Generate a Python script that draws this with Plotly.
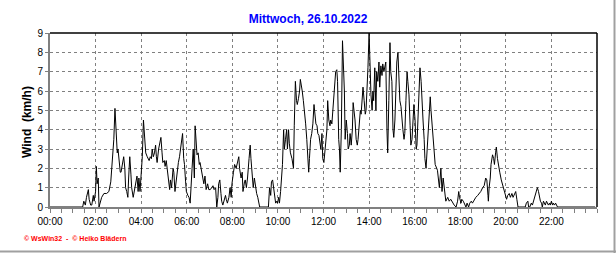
import plotly.graph_objects as go

# ---- data (minutes after midnight, wind speed km/h) ----
minutes = [
    0, 86, 89, 93, 96, 101, 103, 107, 110, 114, 116, 120, 122, 124, 127, 129, 136, 142, 149, 155,
    160, 164, 168, 171, 174, 177, 179, 182, 185, 187, 191, 194, 197, 199, 202, 205, 207, 210, 213, 215,
    219, 222, 226, 229, 232, 234, 237, 241, 243, 246, 249, 252, 256, 261, 264, 267, 269, 272, 275, 278,
    280, 282, 286, 289, 292, 295, 297, 301, 303, 306, 310, 312, 315, 317, 320, 324, 326, 329, 332, 335,
    338, 341, 344, 347, 349, 352, 354, 357, 359, 363, 366, 369, 372, 374, 377, 380, 382, 385, 387, 390,
    393, 395, 399, 402, 405, 408, 411, 415, 418, 422, 425, 429, 432, 436, 439, 442, 444, 447, 450, 452,
    455, 458, 462, 464, 467, 471, 474, 477, 479, 483, 486, 490, 493, 497, 499, 503, 506, 508, 512, 514,
    517, 520, 524, 527, 529, 532, 535, 538, 541, 544, 547, 549, 552, 575,
    578, 581, 583, 586, 589, 591, 594, 597, 599, 602, 604, 607, 610, 612, 615, 617, 620, 623, 625, 628,
    630, 633, 637, 641, 643, 646, 649, 651, 654, 657, 659, 662, 664, 667, 670, 673, 676, 678, 681, 683,
    686, 689, 692, 695, 697, 700, 703, 705, 708, 710, 713, 716, 718, 721, 723, 726, 729, 731, 734, 737,
    739, 742, 744, 747, 750, 752, 755, 757, 760, 762, 764, 767, 770, 772, 775, 777, 780, 783, 785, 788,
    790, 793, 796, 798, 801, 803, 806, 809, 811, 814, 817, 819, 822, 824, 827, 830, 832, 835, 837, 840,
    843, 845, 848, 850,
    852, 855, 858, 860, 863, 866, 868, 871, 874, 876, 879, 882, 884, 887, 889, 892, 895, 897, 900, 903,
    905, 908, 911, 913, 916, 919, 921, 924, 926, 929, 932, 934, 937, 940, 942, 945, 948, 950, 953, 956,
    958, 961, 964, 966, 969, 971, 974, 977, 979, 982, 985, 987, 990, 993, 995, 998, 1001, 1003, 1006, 1009,
    1011, 1014,
    1020, 1025, 1029, 1032, 1035, 1039, 1042, 1047, 1051, 1055, 1060, 1064, 1069, 1073, 1076, 1078, 1082, 1084, 1088, 1091,
    1095, 1098, 1102, 1105, 1109, 1112, 1117, 1121, 1126, 1130, 1134, 1139, 1143, 1147, 1150, 1153, 1154, 1156, 1159, 1161,
    1165, 1168, 1170, 1173, 1175, 1178, 1181, 1184, 1188, 1191, 1195, 1198, 1202, 1205, 1209, 1212, 1216, 1219, 1223, 1226,
    1229, 1232, 1251, 1254, 1258, 1260, 1263, 1267, 1270, 1273, 1276, 1280, 1283, 1286, 1288, 1291, 1294, 1296, 1299, 1302,
    1304, 1307, 1310, 1312, 1315, 1317, 1320, 1323, 1325, 1328, 1331, 1336, 1435,
]
wind = [
    0.0, 0.0, 0.3, 0.1, 0.5, 0.9, 0.4, 0.1, 0.1, 0.6, 0.3, 0.8, 2.1, 1.2, 1.5, 0.0, 0.5, 0.7, 0.7, 0.8,
    1.3, 2.5, 3.5, 5.1, 3.5, 2.8, 3.0, 2.2, 1.8, 1.8, 2.3, 2.6, 2.0, 1.0, 0.8, 0.5, 1.5, 2.6, 1.7, 1.0,
    0.5, 0.8, 1.3, 1.6, 0.8, 1.5, 0.8, 2.0, 2.6, 4.5, 3.5, 2.8, 2.6, 2.4, 2.6, 2.5, 3.0, 2.6, 2.8, 3.2,
    2.6, 2.3, 3.0, 3.4, 3.6, 2.8, 2.3, 2.4, 2.1, 2.4, 1.8, 1.5, 0.9, 1.4, 1.0, 2.0, 1.8, 0.8, 1.3, 2.0,
    2.3, 2.6, 3.0, 3.3, 3.8, 2.5, 2.2, 1.3, 0.8, 0.6, 0.5, 0.2, 1.0, 2.0, 3.0, 1.5, 4.2, 3.2, 2.7, 2.8,
    2.2, 2.3, 1.8, 1.5, 1.2, 1.6, 0.9, 1.2, 0.9, 0.9, 1.0, 1.1, 0.9, 1.0, 0.0, 0.5, 1.2, 1.4, 0.7, 0.3,
    0.1, 0.4, 0.6, 0.4, 0.2, 0.5, 1.0, 0.5, 1.2, 1.8, 2.2, 2.0, 2.3, 2.6, 2.0, 1.5, 1.8, 0.8, 1.3, 1.4,
    1.0, 1.5, 2.5, 3.2, 2.5, 1.8, 1.0, 1.5, 1.0, 0.7, 0.5, 0.2, 0.0, 0.0,
    1.0, 0.6, 1.3, 1.4, 0.9, 0.5, 0.2, 0.3, 0.2, 0.5, 0.2, 0.8, 1.5, 2.2, 4.0, 3.0, 3.5, 4.0, 3.0, 4.0,
    3.3, 2.8, 2.5, 2.0, 4.2, 6.5, 5.5, 5.3, 5.6, 6.0, 6.6, 6.3, 6.0, 5.5, 5.0, 4.3, 3.5, 2.6, 1.8, 2.5,
    3.5, 3.8, 4.3, 5.3, 4.8, 4.3, 4.2, 3.8, 3.7, 3.5, 3.0, 3.8, 2.5, 2.3, 2.7, 3.5, 4.0, 5.5, 4.5, 4.2,
    4.5, 4.3, 4.9, 5.5, 6.2, 7.0, 7.1, 6.5, 3.5, 3.0, 1.8, 4.0, 8.6, 7.5, 6.0, 3.5, 4.5, 3.8, 3.0, 3.2,
    3.8, 3.2, 4.0, 5.4, 5.0, 4.5, 3.5, 3.2, 3.5, 4.2, 5.0, 4.8, 5.5, 6.2, 5.5, 4.8, 5.0, 6.0, 7.2, 9.0,
    6.5, 5.8, 5.0, 6.0,
    5.5, 7.2, 5.0, 7.0, 6.5, 7.5, 6.2, 7.3, 6.8, 7.4, 7.0, 7.4, 7.5, 4.0, 2.8, 5.5, 8.5, 7.0, 6.5, 4.0,
    3.6, 4.5, 6.2, 7.5, 8.0, 6.5, 5.5, 5.2, 4.5, 4.0, 3.5, 3.8, 5.5, 7.0, 6.5, 5.8, 4.2, 3.2, 3.5, 4.5,
    5.3, 4.5, 3.0, 3.2, 4.5, 6.0, 7.2, 6.5, 5.5, 4.5, 3.5, 2.5, 2.0, 3.0, 4.0, 5.0, 5.7, 5.0, 4.2, 3.5,
    2.8, 2.2,
    1.9, 1.0, 2.0, 0.8, 1.5, 0.6, 0.3, 0.5, 0.3, 0.4, 0.2, 0.1, 0.0, 0.3, 0.8, 0.5, 0.2, 0.4, 0.3, 0.2,
    0.0, 0.2, 0.0, 0.2, 0.3, 0.2, 0.4, 0.5, 0.6, 0.7, 0.8, 1.0, 1.1, 1.5, 1.4, 0.6, 0.3, 1.0, 1.5, 2.2,
    2.7, 2.5, 2.2, 2.8, 3.1, 2.5, 2.0, 1.8, 1.4, 1.2, 0.9, 0.6, 0.4, 0.6, 0.7, 0.5, 0.7, 0.5, 0.7, 0.8,
    0.4, 0.0, 0.0, 0.2, 0.3, 0.0, 0.0, 0.2, 0.1, 0.3, 0.5, 0.8, 1.0, 0.8, 0.5, 0.3, 0.2, 0.0, 0.3, 0.2,
    0.1, 0.3, 0.2, 0.1, 0.2, 0.1, 0.3, 0.1, 0.2, 0.1, 0.2, 0.0, 0.0,
]
tick_hours = [0, 2, 4, 6, 8, 10, 12, 14, 16, 18, 20, 22]
tick_labels = ["00:00", "02:00", "04:00", "06:00", "08:00", "10:00",
               "12:00", "14:00", "16:00", "18:00", "20:00", "22:00"]
y_ticks = [0, 1, 2, 3, 4, 5, 6, 7, 8, 9]
title_text = "Mittwoch, 26.10.2022"
y_title = "Wind  (km/h)"
footer_text = "© WsWin32  -  © Heiko Blädern"

hours = [m / 60 for m in minutes]

FONT = "Liberation Sans, Arial, sans-serif"
GRID = "#808080"

fig = go.Figure()
fig.add_trace(go.Scatter(x=hours, y=wind, mode="lines",
                         line=dict(color="black", width=1), hoverinfo="skip"))

fig.update_layout(
    width=616, height=253,
    margin=dict(l=50, r=19, t=33, b=46),
    paper_bgcolor="white", plot_bgcolor="white",
    showlegend=False,
    font=dict(family=FONT, size=10, color="black"),
    title=dict(text=title_text, x=0.5, xref="container", xanchor="center",
               y=1 - 19 / 253, yref="container", yanchor="middle",
               font=dict(family=FONT, size=12, color="#0000FF", weight="bold")),
)
fig.update_xaxes(
    range=[0, 24], tickvals=tick_hours, ticktext=tick_labels,
    showgrid=True, gridcolor=GRID, griddash="3px,3px", gridwidth=1,
    showline=True, linecolor=GRID, linewidth=2,
    ticks="outside", ticklen=4, tickcolor=GRID, tickwidth=1,
    minor=dict(dtick=0.5, ticks="outside", ticklen=4, tickcolor=GRID, tickwidth=1, showgrid=False),
    zeroline=False, fixedrange=True,
    tickfont=dict(family=FONT, size=10, color="black"),
)
fig.update_yaxes(
    range=[0, 9], tickvals=y_ticks,
    showgrid=True, gridcolor=GRID, griddash="3px,3px", gridwidth=1,
    showline=True, linecolor=GRID, linewidth=2,
    ticks="outside", ticklen=3, tickcolor=GRID, tickwidth=1,
    zeroline=False, fixedrange=True,
    tickfont=dict(family=FONT, size=10, color="black"),
)
# black top and right frame
fig.add_shape(type="line", xref="x domain", yref="y domain", x0=0, x1=1, y0=1, y1=1,
              line=dict(color="black", width=1.5))
fig.add_shape(type="line", xref="x domain", yref="y domain", x0=1, x1=1, y0=0, y1=1,
              line=dict(color="black", width=1.5))
# outer light-grey border (right / bottom)
fig.add_shape(type="line", xref="paper", yref="paper", x0=-50 / 547, x1=(616 - 50) / 547,
              y0=-(251.5 - 207) / 174, y1=-(251.5 - 207) / 174,
              line=dict(color="#a0a0a0", width=2))
fig.add_shape(type="line", xref="paper", yref="paper", x0=(614.5 - 50) / 547, x1=(614.5 - 50) / 547,
              y0=-(253 - 207) / 174, y1=1 + 33 / 174,
              line=dict(color="#a0a0a0", width=2))
# y-axis title
fig.add_annotation(text=y_title, xref="paper", yref="paper",
                   x=(27 - 50) / 547, y=(207 - 122) / 174, textangle=-90,
                   showarrow=False, xanchor="center", yanchor="middle",
                   font=dict(family=FONT, size=12, color="black", weight="bold"))
# footer
fig.add_annotation(text=footer_text, xref="paper", yref="paper",
                   x=(22 - 50) / 547, y=-(238 - 207) / 174,
                   showarrow=False, xanchor="left", yanchor="middle",
                   font=dict(family=FONT, size=7, color="#FF0000", weight="bold"))

fig.write_html("out.html")
